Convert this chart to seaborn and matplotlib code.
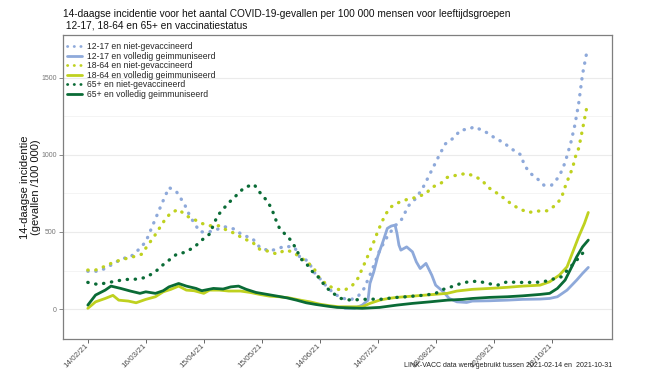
import numpy as np
import pandas as pd
import matplotlib
matplotlib.use("Agg")
import matplotlib.pyplot as plt
import matplotlib.dates as mdates
import seaborn as sns

# ---------------- data (days after 2021-02-14, incidence per 100 000) ----------------
start = pd.Timestamp("2021-02-14")

days_1217_niet = [0, 5, 9, 14, 18, 22, 26, 30, 34, 38, 42, 46, 50, 53, 58, 63, 71, 76, 80, 85,
                  89, 94, 98, 102, 107, 110, 114, 117, 120, 124, 128, 132, 136, 140, 143, 147,
                  151, 155, 159, 162, 166, 170, 174, 178, 182, 185, 189, 193, 197, 200, 203,
                  207, 211, 215, 219, 224, 226, 229, 233, 236, 240, 244, 247, 250, 252, 254,
                  256, 258]
vals_1217_niet = [245, 245, 263, 300, 328, 337, 382, 436, 555, 674, 788, 758, 680, 598, 500, 501,
                  533, 518, 479, 460, 400, 376, 390, 408, 400, 330, 313, 240, 199, 140, 95, 70,
                  60, 85, 134, 250, 380, 470, 540, 572, 670, 720, 800, 900, 1000, 1070, 1106,
                  1160, 1165, 1181, 1164, 1140, 1105, 1080, 1040, 1000, 930, 880, 840, 803, 803,
                  860, 950, 1080, 1190, 1330, 1520, 1650]

days_1217_vol = [133, 138, 142, 145, 146, 148, 150, 153, 155, 157, 159, 160, 161, 162, 165, 168,
                 170, 172, 175, 178, 180, 184, 187, 191, 196, 199, 208, 217, 225, 234, 239, 243,
                 248, 253, 256, 259]
vals_1217_vol = [5, 5, 26, 58, 166, 242, 339, 447, 523, 538, 544, 490, 415, 382, 403, 371, 306,
                 263, 296, 220, 155, 112, 69, 47, 43, 52, 54, 58, 63, 65, 69, 80, 123, 188, 231,
                 270]

days_1864_niet = [0, 4, 9, 13, 18, 23, 28, 31, 34, 37, 40, 43, 47, 51, 55, 59, 63, 68, 72, 77,
                  80, 85, 89, 93, 98, 102, 106, 110, 114, 117, 120, 124, 128, 133, 137, 140, 142,
                  144, 146, 148, 150, 152, 154, 157, 161, 166, 170, 175, 178, 183, 186, 191, 196,
                  200, 204, 207, 212, 216, 220, 224, 228, 233, 238, 242, 245, 247, 249, 251, 252,
                  254, 255, 256, 257, 258]
vals_1864_niet = [253, 253, 278, 302, 322, 337, 356, 414, 464, 523, 581, 624, 646, 604, 581, 555,
                  540, 540, 510, 486, 458, 436, 387, 376, 356, 382, 371, 335, 300, 263, 199, 155,
                  130, 123, 155, 203, 263, 317, 378, 436, 501, 559, 613, 663, 691, 714, 723, 749,
                  788, 818, 853, 868, 879, 861, 835, 790, 749, 712, 673, 646, 626, 635, 637, 673,
                  717, 792, 857, 918, 976, 1041, 1101, 1164, 1229, 1293]

days_1864_vol = [0, 4, 9, 13, 16, 21, 25, 30, 35, 39, 43, 47, 51, 55, 60, 63, 68, 73, 79, 84, 89,
                 94, 99, 104, 110, 115, 120, 125, 130, 136, 142, 146, 151, 156, 160, 168, 177,
                 186, 191, 199, 208, 217, 225, 234, 239, 244, 248, 251, 254, 257, 259]
vals_1864_vol = [5, 47, 69, 89, 58, 52, 41, 63, 80, 112, 128, 149, 123, 119, 102, 123, 123, 117,
                 117, 108, 95, 84, 80, 73, 58, 47, 32, 22, 15, 15, 15, 37, 58, 70, 76, 84, 93,
                 102, 117, 128, 134, 141, 149, 155, 177, 220, 274, 371, 468, 555, 626]

days_65_niet = [0, 5, 10, 15, 20, 25, 30, 35, 38, 42, 46, 50, 55, 59, 63, 67, 70, 74, 77, 81, 86,
                89, 92, 95, 97, 99, 102, 105, 108, 110, 113, 116, 120, 123, 127, 131, 136, 141,
                146, 151, 155, 160, 165, 170, 175, 180, 184, 189, 193, 197, 202, 207, 212, 217,
                222, 227, 232, 237, 242, 245, 249, 253, 256, 259]
vals_65_niet = [173, 160, 170, 183, 192, 194, 205, 242, 278, 317, 356, 367, 400, 447, 486, 602,
                648, 702, 738, 788, 808, 756, 712, 656, 587, 529, 486, 447, 387, 328, 296, 246,
                199, 144, 102, 69, 58, 62, 65, 63, 69, 76, 80, 86, 91, 102, 128, 148, 166, 177,
                181, 166, 155, 177, 173, 173, 173, 181, 199, 209, 263, 317, 361, 393]

days_65_vol = [0, 4, 9, 12, 17, 22, 27, 30, 35, 39, 42, 47, 51, 56, 59, 65, 70, 74, 78, 82, 87,
               92, 98, 103, 108, 113, 118, 124, 129, 135, 142, 151, 160, 168, 177, 186, 194, 199,
               208, 217, 225, 234, 239, 243, 247, 250, 253, 256, 259]
vals_65_vol = [26, 91, 123, 149, 134, 117, 102, 112, 102, 119, 144, 166, 149, 134, 119, 134, 130,
               144, 149, 128, 108, 97, 84, 73, 58, 41, 30, 19, 11, 8, 5, 11, 26, 37, 47, 58, 63,
               69, 76, 80, 86, 95, 102, 134, 188, 263, 339, 403, 447]

labels = ["12-17 en niet-gevaccineerd", "12-17 en volledig geimmuniseerd",
          "18-64 en niet-gevaccineerd", "18-64 en volledig geimmuniseerd",
          "65+ en niet-gevaccineerd", "65+ en volledig geimmuniseerd"]

tick_dates = ["2021-02-14", "2021-03-16", "2021-04-15", "2021-05-15", "2021-06-14",
              "2021-07-14", "2021-08-13", "2021-09-12", "2021-10-12"]
y_ticks = [0, 500, 1000, 1500]

# ---------------- styling ----------------
sns.set_theme(style="white")
plt.rcParams["font.family"] = ["Liberation Sans", "DejaVu Sans"]

c_blue = "#8EA9DA"
c_yel = "#BFD11F"
c_grn = "#0A6B36"

series = [
    (days_1217_niet, vals_1217_niet, c_blue, "dot"),
    (days_1217_vol, vals_1217_vol, c_blue, "solid"),
    (days_1864_niet, vals_1864_niet, c_yel, "dot"),
    (days_1864_vol, vals_1864_vol, c_yel, "solid"),
    (days_65_niet, vals_65_niet, c_grn, "dot"),
    (days_65_vol, vals_65_vol, c_grn, "solid"),
]

fig = plt.figure(figsize=(6.62, 3.73), dpi=100)
ax = fig.add_axes([0.095, 0.091, 0.829, 0.815])

for (d, v, col, ls), lab in zip(series, labels):
    df = pd.DataFrame({"date": start + pd.to_timedelta(d, unit="D"), "val": v})
    if ls == "dot":
        sns.lineplot(data=df, x="date", y="val", ax=ax, color=col, lw=2.4,
                     linestyle=(0, (0.1, 2.3)), dash_capstyle="round", label=lab)
    else:
        sns.lineplot(data=df, x="date", y="val", ax=ax, color=col, lw=2.0,
                     solid_capstyle="round", label=lab)

ax.set_xlim(start - pd.Timedelta(days=12.9), start + pd.Timedelta(days=271.1))
ax.set_ylim(-194, 1775)

ax.set_yticks(y_ticks)
ax.set_yticks([250, 750, 1250], minor=True)
ax.grid(True, which="major", axis="y", color="#EBEBEB", lw=0.8)
ax.grid(True, which="minor", axis="y", color="#F3F3F3", lw=0.6)
ax.grid(False, axis="x")
ax.set_axisbelow(True)

ax.set_xticks(pd.to_datetime(tick_dates))
ax.xaxis.set_major_formatter(mdates.DateFormatter("%d/%m/%y"))
ax.tick_params(axis="x", labelsize=5.8, colors="#4D4D4D", length=3, width=0.6, pad=1.0,
               bottom=True, direction="out")
plt.setp(ax.get_xticklabels(), rotation=45, ha="right", va="center", rotation_mode="anchor")
ax.tick_params(axis="y", which="major", labelsize=5.0, colors="#777777", length=3, width=0.6,
               pad=1.5, left=True, direction="out")
ax.tick_params(axis="y", which="minor", left=False)
for lbl in ax.get_xticklabels():
    lbl.set_color("#4D4D4D")

for s in ax.spines.values():
    s.set_color("#7F7F7F")
    s.set_linewidth(0.9)

ax.set_xlabel("")
ax.set_ylabel("14-daagse incidentie\n(gevallen /100 000)", fontsize=8, color="#111111",
              labelpad=0)

leg = ax.legend(loc="upper left", bbox_to_anchor=(0.0, 0.99), frameon=False, fontsize=6.2,
                handlelength=1.7, handletextpad=0.6, labelspacing=0.05, borderaxespad=0.2,
                borderpad=0.3)
for h in leg.get_lines():
    h.set_linewidth(2.0)

fig.text(0.095, 0.975, "14-daagse incidentie voor het aantal COVID-19-gevallen per 100 000 "
         "mensen voor leeftijdsgroepen\n 12-17, 18-64 en 65+ en vaccinatiestatus",
         fontsize=7.3, ha="left", va="top", color="#111111", linespacing=1.1)
fig.text(0.924, 0.012, "LINK-VACC data werd gebruikt tussen 2021-02-14 en  2021-10-31",
         fontsize=5.0, ha="right", va="bottom", color="#222222")

fig.savefig("out.png", dpi=100)
